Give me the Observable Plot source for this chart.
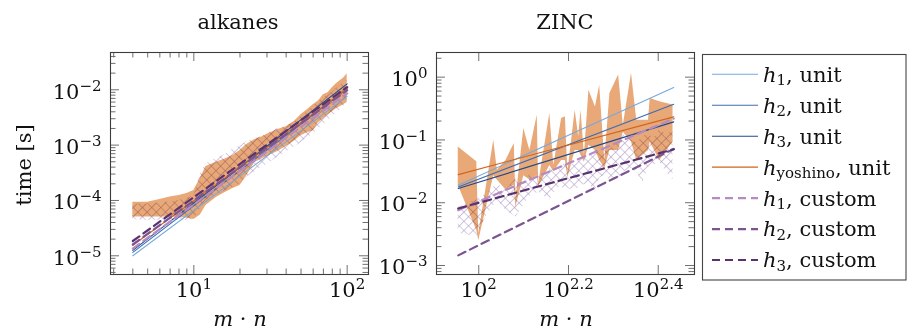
<!DOCTYPE html>
<html><head><meta charset="utf-8">
<script src="https://cdn.jsdelivr.net/npm/d3@7"></script>
<script src="https://cdn.jsdelivr.net/npm/@observablehq/plot@0.6"></script>
<style>
body{margin:0;background:#fff;}
#root{position:relative;width:907px;height:333px;overflow:hidden;}
#root > svg{position:absolute;top:0;}
</style></head><body><div id="root"></div>
<script>
// ---------------- data ----------------
// alkanes: range bands
const alkBandX   = [4,5,6,7,8,9,10,11,12,14,16,18,20,22,25,28,30,35,40,45,50,55,60,65,70,75,80,85,90,95,100];
const alkYoshLo  = [5.0e-5,5.0e-5,5.0e-5,5.0e-5,4.9e-5,4.8e-5,4.55e-5,5.4e-5,8.1e-5,1.13e-4,1.39e-4,1.64e-4,1.86e-4,2.71e-4,4.84e-4,5.7e-4,6.2e-4,7.6e-4,9.4e-4,1.16e-3,1.48e-3,1.68e-3,1.82e-3,2.54e-3,3.0e-3,3.55e-3,4.0e-3,4.55e-3,4.94e-3,5.37e-3,5.9e-3];
const alkYoshHi  = [9.3e-5,9.3e-5,1.04e-4,1.16e-4,1.23e-4,1.34e-4,1.51e-4,2.49e-4,4.1e-4,4.9e-4,5.6e-4,6.5e-4,8.0e-4,1.02e-3,1.26e-3,1.42e-3,1.58e-3,1.9e-3,2.15e-3,2.65e-3,3.55e-3,4.36e-3,5.37e-3,6.3e-3,8.1e-3,8.8e-3,1.09e-2,1.28e-2,1.45e-2,1.64e-2,1.94e-2];
const alkCustLo  = [4.5e-5,4.4e-5,4.4e-5,4.4e-5,4.4e-5,4.4e-5,4.5e-5,7.0e-5,1.0e-4,1.25e-4,1.5e-4,1.75e-4,2.0e-4,2.6e-4,3.3e-4,4.0e-4,4.5e-4,6.0e-4,7.5e-4,9.2e-4,1.1e-3,1.35e-3,1.6e-3,1.95e-3,2.3e-3,2.8e-3,3.3e-3,3.8e-3,4.3e-3,5.0e-3,6.0e-3];
const alkCustHi  = [8.5e-5,8.6e-5,9.0e-5,9.4e-5,1.0e-4,1.1e-4,1.2e-4,3.0e-4,4.6e-4,5.8e-4,6.8e-4,8.5e-4,9.5e-4,1.15e-3,1.3e-3,1.45e-3,1.6e-3,1.97e-3,2.2e-3,2.6e-3,3.2e-3,4.0e-3,5.0e-3,6.0e-3,7.0e-3,8.0e-3,9.0e-3,1.05e-2,1.2e-2,1.35e-2,1.5e-2];
// alkanes: fitted lines (end points)
const alkLineX     = [4, 100];
const alkH1Unit    = [1.0e-5, 7.6e-3];
const alkH2Unit    = [1.15e-5, 1.05e-2];
const alkH3Unit    = [1.25e-5, 1.28e-2];
const alkYoshUnit  = [1.55e-5, 1.04e-2];
const alkH1Custom  = [1.35e-5, 8.6e-3];
const alkH2Custom  = [1.6e-5, 9.8e-3];
const alkH3Custom  = [1.85e-5, 1.12e-2];

// ZINC: range bands
const zincYoshX  = [90,99,100,108,110,115,120,121,126,130,135,136,144,147,153,156,158,164,167,169,172,176,182,186,191,196,205,210,219,225,239,241,253,271];
const zincYoshLo = [0.019,0.0036,0.0025,0.027,0.023,0.016,0.019,0.0085,0.027,0.023,0.027,0.018,0.039,0.031,0.047,0.047,0.025,0.068,0.068,0.057,0.044,0.082,0.068,0.047,0.035,0.068,0.068,0.133,0.093,0.047,0.068,0.093,0.047,0.093];
const zincYoshHi = [0.077,0.045,0.0032,0.099,0.033,0.047,0.088,0.011,0.152,0.068,0.248,0.020,0.264,0.039,0.219,0.233,0.0305,0.298,0.112,0.298,0.057,0.62,0.336,0.746,0.047,0.55,1.08,0.172,1.15,0.206,0.206,0.457,0.404,0.36];
const zincCustX  = [90,99,104,110,115,121,126,130,136,144,150,156,164,170,176,182,186,191,196,205,210,219,225,232,239,245,253,262,271];
const zincCustLo = [0.00325,0.0029,0.0061,0.0109,0.0076,0.0059,0.0091,0.0127,0.0147,0.0109,0.0176,0.017,0.0158,0.019,0.0204,0.0147,0.0245,0.0274,0.0228,0.0245,0.0305,0.0354,0.0305,0.0212,0.0367,0.0395,0.0441,0.0305,0.0228];
const zincCustHi = [0.0085,0.011,0.014,0.02,0.016,0.024,0.02,0.028,0.025,0.035,0.03,0.045,0.04,0.055,0.05,0.07,0.06,0.08,0.07,0.09,0.12,0.10,0.09,0.11,0.13,0.10,0.15,0.12,0.14];
// ZINC: fitted lines (end points)
const zincLineX    = [90, 272];
const zincH1Unit   = [0.019, 0.685];
const zincH2Unit   = [0.0178, 0.37];
const zincH3Unit   = [0.0168, 0.194];
const zincYoshUnit = [0.028, 0.233];
const zincH1Custom = [0.0076, 0.219];
const zincH2Custom = [0.00145, 0.072];
const zincH3Custom = [0.0081, 0.071];

// series / legend
const seriesSub  = ["1","2","3","yoshino","1","2","3"];
const seriesKind = ["unit","unit","unit","unit","custom","custom","custom"];

// ticks
const alkXMajor = [10, 100];
const alkYMajor = [1e-5, 1e-4, 1e-3, 1e-2];
const zincXTickExp = ["2","2.2","2.4"];
const zincXMajor = zincXTickExp.map(e => Math.pow(10, +e));
const zincYMajor = [1e-3, 1e-2, 1e-1, 1];

// ---------------- styles ----------------
const seriesStyle = [
  {color:"#76a9dc", w:1.1, dash:null},
  {color:"#3b6db4", w:1.1, dash:null},
  {color:"#1f4a8e", w:1.1, dash:null},
  {color:"#d0651c", w:1.1, dash:null},
  {color:"#b58bc1", w:2.2, dash:"8,5"},
  {color:"#7c5590", w:2.2, dash:"8,5"},
  {color:"#5a3270", w:2.2, dash:"8,5"}
];
const FONT = "DejaVu Serif";
const ns = "http://www.w3.org/2000/svg";

function minorTicks(lo, hi){
  const out=[];
  for(let e=Math.floor(Math.log10(lo)); e<=Math.ceil(Math.log10(hi)); e++)
    for(let m=2;m<=9;m++){ const v=m*Math.pow(10,e); if(v>=lo && v<=hi) out.push(v); }
  return out;
}
const zip3 = (xs, a, b) => xs.map((x,i)=>({x, lo:a[i], hi:b[i]}));
const lineRows = (xs, ys) => xs.map((x,i)=>({x, y:ys[i]}));
const expFmt = d => "10^" + String(Math.round(Math.log10(d))).replace("-", "\u2212");
const zincXFmt = d => {
  let best=0; zincXMajor.forEach((v,i)=>{ if(Math.abs(Math.log10(v/d)) < Math.abs(Math.log10(zincXMajor[best]/d))) best=i; });
  return "10^" + zincXTickExp[best];
};

function supLabels(svg){
  svg.querySelectorAll('g[aria-label$="tick label"] text').forEach(t=>{
    const s=t.textContent; const m=s.match(/^(\d+)\^(.+)$/); if(!m) return;
    t.textContent='';
    const b=document.createElementNS(ns,'tspan'); b.textContent=m[1]; t.appendChild(b);
    const e=document.createElementNS(ns,'tspan'); e.textContent=m[2];
    e.setAttribute('font-size','15'); e.setAttribute('dy','-8'); t.appendChild(e);
  });
}
function el(name, attrs){ const e=document.createElementNS(ns,name); for(const k in attrs) e.setAttribute(k, attrs[k]); return e; }
function addPattern(svg, id){
  const defs=el('defs',{});
  const pat=el('pattern',{id, patternUnits:"userSpaceOnUse", width:"6.5", height:"6.5", patternTransform:"rotate(45)"});
  pat.appendChild(el('path',{d:"M0,0H6.5M0,0V6.5", stroke:"#a892c0", "stroke-width":"1.1", fill:"none"}));
  defs.appendChild(pat);
  svg.insertBefore(defs, svg.firstChild);
}

function panel({left, width, ml, mr, xDomain, yDomain, xMajor, xMinor, yMajor, yMinor, xFmt, yFmt, band, hatch, lines, patId}){
  const mt=52, mb=59, H=333;
  const fw=width-ml-mr, fh=H-mt-mb;
  const majL=9, minL=5.5, tc="#707070";
  const marks = [
    Plot.areaY(band, {x:"x", y1:"lo", y2:"hi", fill:"#e9a877"}),
    Plot.areaY(hatch, {x:"x", y1:"lo", y2:"hi", fill:"#a892c0"}),
    ...lines.map((rows,i)=>Plot.line(rows, {x:"x", y:"y", stroke:seriesStyle[i].color, strokeWidth:seriesStyle[i].w, strokeDasharray:seriesStyle[i].dash})),
    Plot.tickY(yMajor, {y:d=>d, insetRight:fw-majL, stroke:tc}),
    Plot.tickY(yMajor, {y:d=>d, insetLeft:fw-majL, stroke:tc}),
    Plot.tickY(yMinor, {y:d=>d, insetRight:fw-minL, stroke:tc}),
    Plot.tickY(yMinor, {y:d=>d, insetLeft:fw-minL, stroke:tc}),
    Plot.tickX(xMajor, {x:d=>d, insetTop:fh-majL, stroke:tc}),
    Plot.tickX(xMajor, {x:d=>d, insetBottom:fh-majL, stroke:tc}),
    Plot.tickX(xMinor, {x:d=>d, insetTop:fh-minL, stroke:tc}),
    Plot.tickX(xMinor, {x:d=>d, insetBottom:fh-minL, stroke:tc}),
    Plot.axisY({ticks:yMajor, tickSize:0, tickPadding:9, tickFormat:yFmt, dy:2, label:null}),
    Plot.axisX({ticks:xMajor, tickSize:0, tickPadding:8, tickFormat:xFmt, label:null}),
    Plot.frame({stroke:"#3c3c3c", strokeWidth:1.1})
  ];
  const svg = Plot.plot({
    width, height:H, marginLeft:ml, marginRight:mr, marginTop:mt, marginBottom:mb,
    x:{type:"log", domain:xDomain, label:null},
    y:{type:"log", domain:yDomain, label:null},
    style:{fontFamily:FONT, fontSize:"21px", color:"#111", background:"transparent", overflow:"visible"},
    marks
  });
  addPattern(svg, patId);
  supLabels(svg);
  // second area mark = crosshatch band
  const areas = svg.querySelectorAll('g[aria-label="area"]');
  const h = areas[1];
  if(h){
    h.style.mixBlendMode="multiply";
    h.setAttribute('fill', `url(#${patId})`);
    h.querySelectorAll('path').forEach(p=>p.setAttribute('fill', `url(#${patId})`));
  }
  svg.style.left = left+"px";
  return svg;
}

const root=document.getElementById('root');
const alkLines = [alkH1Unit,alkH2Unit,alkH3Unit,alkYoshUnit,alkH1Custom,alkH2Custom,alkH3Custom].map(ys=>lineRows(alkLineX, ys));
const zincLines = [zincH1Unit,zincH2Unit,zincH3Unit,zincYoshUnit,zincH1Custom,zincH2Custom,zincH3Custom].map(ys=>lineRows(zincLineX, ys));

root.appendChild(panel({
  left:0, width:372, ml:110, mr:4,
  xDomain:[2.86, 137.8], yDomain:[4.59e-6, 0.0472],
  xMajor:alkXMajor, xMinor:minorTicks(2.86,137.8), yMajor:alkYMajor, yMinor:minorTicks(4.59e-6,0.0472),
  xFmt:expFmt, yFmt:expFmt,
  band:zip3(alkBandX, alkYoshLo, alkYoshHi), hatch:zip3(alkBandX, alkCustLo, alkCustHi),
  lines:alkLines, patId:"xhA"
}));
root.appendChild(panel({
  left:372, width:330, ml:64, mr:8,
  xDomain:[80.5, 302.6], yDomain:[7.19e-4, 2.47],
  xMajor:zincXMajor, xMinor:[], yMajor:zincYMajor, yMinor:minorTicks(7.19e-4,2.47),
  xFmt:zincXFmt, yFmt:expFmt,
  band:zip3(zincYoshX, zincYoshLo, zincYoshHi), hatch:zip3(zincCustX, zincCustLo, zincCustHi),
  lines:zincLines, patId:"xhZ"
}));

// ---------------- overlay text + legend ----------------
const ov = document.createElementNS(ns,'svg');
ov.setAttribute('width',907); ov.setAttribute('height',333);
ov.style.left="0px"; ov.style.fontFamily=FONT; ov.style.fontSize="21px";
let html = `
<text x="238" y="29" text-anchor="middle" fill="#111">alkanes</text>
<text x="565" y="29" text-anchor="middle" fill="#111">ZINC</text>
<text transform="translate(31,165) rotate(-90)" text-anchor="middle" fill="#111">time [s]</text>
<text x="240" y="326" text-anchor="middle" fill="#111"><tspan font-style="italic">m</tspan> · <tspan font-style="italic">n</tspan></text>
<text x="566" y="326" text-anchor="middle" fill="#111"><tspan font-style="italic">m</tspan> · <tspan font-style="italic">n</tspan></text>
<rect x="702.5" y="54.5" width="203.5" height="225.5" fill="#fff" stroke="#444" stroke-width="1.1"/>`;
seriesSub.forEach((sub,i)=>{
  const y = 74.3 + i*30.95;
  const st = seriesStyle[i];
  html += `<line x1="712" x2="758" y1="${y}" y2="${y}" stroke="${st.color}" stroke-width="${st.w}" ${st.dash?`stroke-dasharray="${st.dash}"`:""}/>`;
  html += `<text x="763" y="${y+7.4}" fill="#111"><tspan font-style="italic">h</tspan><tspan font-size="15" dy="3.5">${sub}</tspan><tspan dy="-3.5">, ${seriesKind[i]}</tspan></text>`;
});
ov.innerHTML = html;
root.appendChild(ov);
</script></body></html>
